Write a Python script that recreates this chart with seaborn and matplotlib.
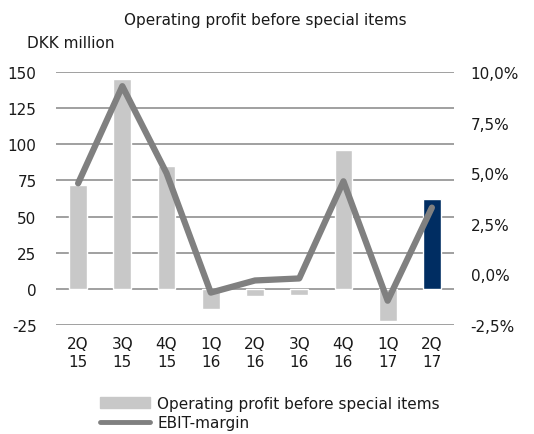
import numpy as np
import pandas as pd
import seaborn as sns
import matplotlib
matplotlib.use("Agg")
import matplotlib.pyplot as plt
from matplotlib.patches import Patch
from matplotlib.lines import Line2D
from matplotlib.ticker import FuncFormatter

quarters = ["2Q\n15", "3Q\n15", "4Q\n15", "1Q\n16", "2Q\n16", "3Q\n16", "4Q\n16", "1Q\n17", "2Q\n17"]
profit = [72, 145, 85, -14, -5, -4, 96, -22, 62]
ebit_margin = [4.5, 9.3, 5.0, -0.9, -0.3, -0.2, 4.6, -1.3, 3.3]
bar_colors = ["#c8c8c8"] * 8 + ["#002d62"]

sns.set_theme(style="white")
plt.rcParams["font.family"] = ["DejaVu Sans"]
plt.rcParams["font.size"] = 11
plt.rcParams["axes.unicode_minus"] = False

df = pd.DataFrame({"quarter": quarters, "profit": profit, "margin": ebit_margin})

fig = plt.figure(figsize=(5.34, 4.35), dpi=100)
ax = fig.add_axes([56 / 534, 1 - 326 / 435, 398 / 534, 253 / 435])

sns.barplot(data=df, x="quarter", y="profit", hue="quarter", palette=bar_colors,
            legend=False, width=0.4, saturation=1, ax=ax)
ax.set_ylim(-25, 150)
ax.set_yticks(range(-25, 151, 25))
ax.set_xlim(-0.5, 8.5)
ax.yaxis.grid(True, color="#a0a0a0", linewidth=1.4)
ax.set_axisbelow(True)
for s in ax.spines.values():
    s.set_visible(False)
ax.set_xlabel("")
ax.set_ylabel("")
ax.tick_params(axis="y", length=0, pad=14, labelsize=11, colors="#1a1a1a")
ax.tick_params(axis="x", length=0, pad=8, labelsize=11, colors="#1a1a1a")

ax2 = ax.twinx()
sns.lineplot(x=np.arange(len(quarters)), y=df["margin"], color="#808080",
             linewidth=4.5, ax=ax2, solid_capstyle="round")
ax2.set_ylim(-2.5, 10)
ax2.set_yticks([-2.5, 0, 2.5, 5, 7.5, 10])
ax2.yaxis.set_major_formatter(FuncFormatter(lambda v, p: f"{v:.1f}%".replace(".", ",")))
ax2.set_ylabel("")
ax2.tick_params(axis="y", length=0, pad=12, labelsize=11, colors="#1a1a1a")
for s in ax2.spines.values():
    s.set_visible(False)
ax2.set_xlim(-0.5, 8.5)

fig.text(265 / 534, 1 - 21 / 435, "Operating profit before special items",
         ha="center", va="center", fontsize=11, color="#1a1a1a")
fig.text(27 / 534, 1 - 44 / 435, "DKK million", ha="left", va="center",
         fontsize=11, color="#1a1a1a")

handles = [Patch(color="#c8c8c8"), Line2D([0], [0], color="#808080", linewidth=3.5)]
fig.legend(handles, ["Operating profit before special items", "EBIT-margin"],
           loc="center", bbox_to_anchor=(270 / 534, 1 - 414 / 435), frameon=False,
           fontsize=11, handlelength=3.3, handletextpad=0.45, labelspacing=0.3,
           borderpad=0, labelcolor="#1a1a1a")

fig.savefig("out.png", dpi=100)
